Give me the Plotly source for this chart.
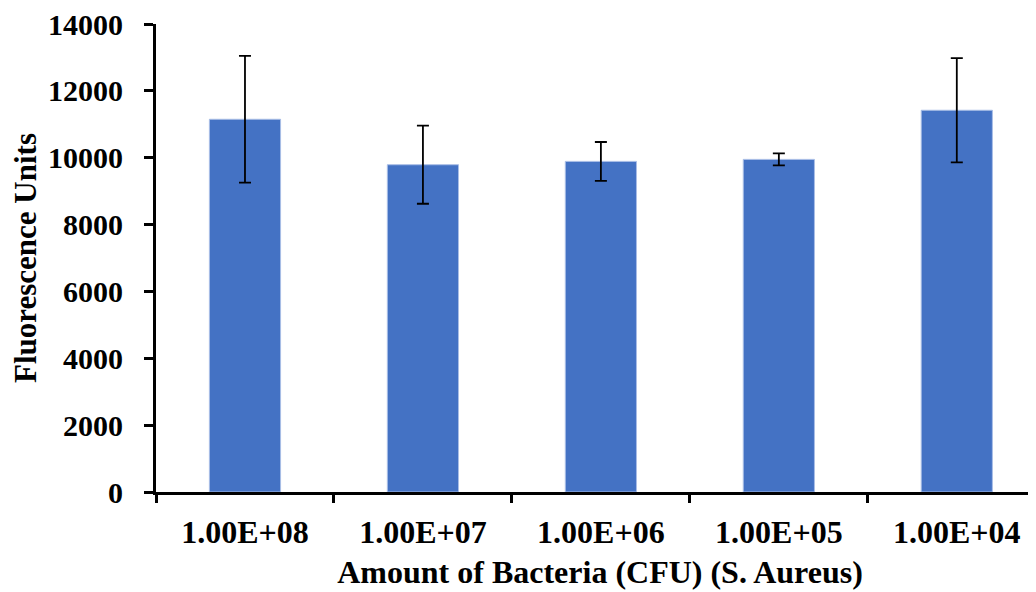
import plotly.graph_objects as go

categories = ["1.00E+08", "1.00E+07", "1.00E+06", "1.00E+05", "1.00E+04"]
fluorescence = [11150, 9790, 9890, 9950, 11420]
error = [1895, 1167, 580, 180, 1560]
y_ticks = [0, 2000, 4000, 6000, 8000, 10000, 12000, 14000]

font_family = "Liberation Serif, Times New Roman, serif"

fig = go.Figure(
    go.Bar(
        x=categories,
        y=fluorescence,
        width=0.4,
        marker=dict(color="#4472C4", line=dict(color="#A9BEE6", width=1)),
        error_y=dict(type="data", array=error, visible=True, color="black", thickness=1.8, width=6),
    )
)

# the page body adds an 8px offset, so margins are reduced by 8
fig.update_layout(
    width=1036,
    height=592,
    margin=dict(l=148, r=0, t=16, b=108),
    paper_bgcolor="white",
    plot_bgcolor="white",
    showlegend=False,
    font=dict(family=font_family, color="black"),
)

fig.update_xaxes(
    type="category",
    range=[-0.5, 4.49],
    tickson="boundaries",
    ticks="outside",
    ticklen=8,
    tickwidth=2.5,
    tickcolor="black",
    showline=True,
    linecolor="black",
    linewidth=3,
    showgrid=False,
    zeroline=False,
    tickfont=dict(size=32, family=font_family, weight="bold"),
    ticklabelstandoff=10,
    ticklabeloverflow="allow",
    title=dict(text="<b>Amount of Bacteria (CFU) (S. Aureus)</b>", font=dict(size=32), standoff=12),
    automargin=False,
)

fig.update_yaxes(
    range=[0, 14000],
    tickmode="array",
    tickvals=y_ticks,
    ticktext=[str(v) for v in y_ticks],
    ticks="outside",
    ticklen=9,
    tickwidth=2.5,
    tickcolor="black",
    showline=True,
    linecolor="black",
    linewidth=3,
    showgrid=False,
    zeroline=False,
    tickfont=dict(size=30, family=font_family, weight="bold"),
    ticklabelstandoff=15,
    ticklabeloverflow="allow",
    title=dict(text="<b>Fluorescence Units</b>", font=dict(size=31), standoff=6),
    automargin=False,
)

fig.write_html("out.html")
